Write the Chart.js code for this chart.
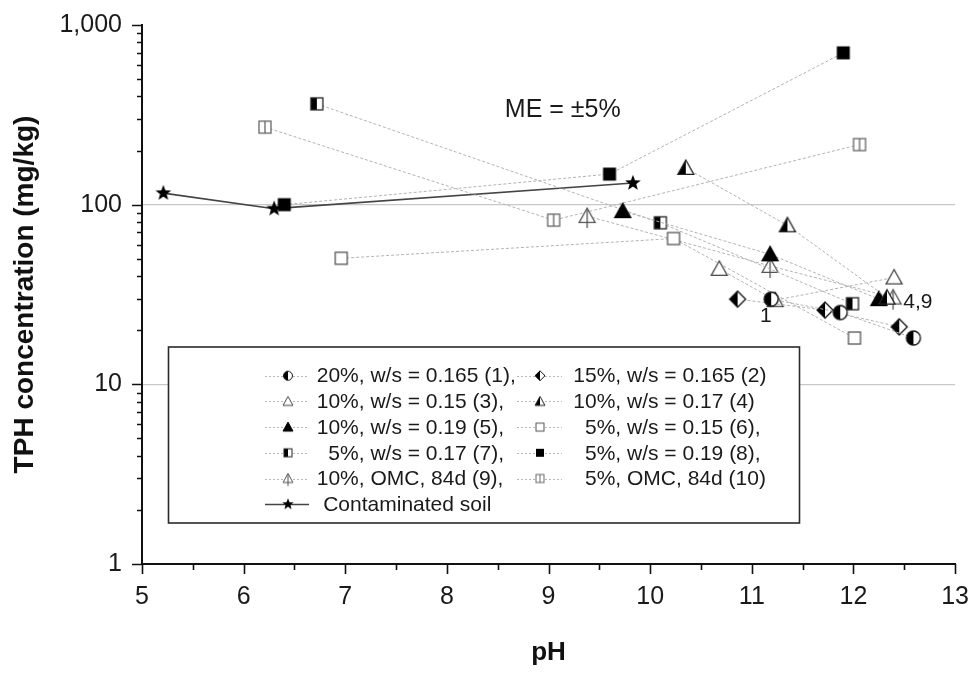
<!DOCTYPE html>
<html>
<head>
<meta charset="utf-8">
<script src="https://cdn.jsdelivr.net/npm/chart.js@4.4.1/dist/chart.umd.min.js"></script>
<style>
html,body{margin:0;padding:0;background:#fff;}
#wrap{width:977px;height:673px;}
</style>
</head>
<body>
<div id="wrap"><canvas id="c" width="977" height="673"></canvas></div>
<script>
// ---------------- DATA ----------------
const seriesLabels = [
  '20%, w/s = 0.165 (1),', '15%, w/s = 0.165 (2)',
  '10%, w/s = 0.15 (3),',  '10%, w/s = 0.17 (4)',
  '10%, w/s = 0.19 (5),',  '  5%, w/s = 0.15 (6),',
  '  5%, w/s = 0.17 (7),', '  5%, w/s = 0.19 (8),',
  '10%, OMC, 84d (9),',    '  5%, OMC, 84d (10)',
  'Contaminated soil'
];
const ph1 = [11.19, 11.87, 12.59];  const tph1 = [29.8, 25.1, 18.1];
const ph2 = [10.86, 11.72, 12.45];  const tph2 = [29.8, 25.9, 20.9];
const ph3 = [10.68, 11.23, 12.40];  const tph3 = [43.9, 29.4, 39.3];
const ph4 = [10.35, 11.35, 12.33];  const tph4 = [160, 76.7, 30.4];
const ph5 = [9.73, 11.18, 12.25];   const tph5 = [92, 52.9, 29.8];
const ph6 = [6.96, 10.23, 12.01];   const tph6 = [50.3, 64.8, 18.1];
const ph7 = [6.72, 10.10, 11.99];   const tph7 = [364, 79.3, 28.1];
const ph8 = [6.40, 9.60, 11.90];    const tph8 = [100, 148, 700];
const ph9 = [9.38, 11.18, 12.39];   const tph9 = [86.4, 45.6, 30.4];
const ph10 = [6.21, 9.05, 12.06];   const tph10 = [270, 82, 216];
const phSoil = [5.21, 6.30, 9.83];  const tphSoil = [116, 95, 132];

const xTicks = [5, 6, 7, 8, 9, 10, 11, 12, 13];
const yTickLabels = [1, 10, 100, 1000];
const annotations = [
  {text: 'ME = \u00B15%', x: 8.57, y: 337, size: 25},
  {text: '1', x: 11.08, y: 23.8, size: 21},
  {text: '4,9', x: 12.49, y: 28.5, size: 21}
];

// ---------------- STYLE / MARKERS ----------------
const FONT = '"Liberation Sans", Arial, Helvetica, sans-serif';

function makeMarker(type, s) {
  const W = Math.ceil(s * 2) + 2;
  const cv = document.createElement('canvas');
  cv.width = W; cv.height = W;
  const g = cv.getContext('2d');
  const c = W / 2, r = s / 2;
  g.lineJoin = 'miter';
  g.lineWidth = s > 11 ? 1.3 : 1;
  const tri = () => {
    g.beginPath();
    g.moveTo(c, c - s * 0.5);
    g.lineTo(c + r, c + s * 0.4);
    g.lineTo(c - r, c + s * 0.4);
    g.closePath();
  };
  switch (type) {
    case 'halfCircle':
      g.beginPath(); g.arc(c, c, r, 0, Math.PI * 2); g.fillStyle = '#fff'; g.fill();
      g.beginPath(); g.arc(c, c, r, Math.PI / 2, Math.PI * 1.5); g.closePath(); g.fillStyle = '#000'; g.fill();
      g.beginPath(); g.arc(c, c, r, 0, Math.PI * 2); g.strokeStyle = '#111'; g.stroke();
      break;
    case 'halfDiamond':
      g.beginPath(); g.moveTo(c, c - r); g.lineTo(c + r, c); g.lineTo(c, c + r); g.lineTo(c - r, c); g.closePath();
      g.fillStyle = '#fff'; g.fill();
      g.beginPath(); g.moveTo(c, c - r); g.lineTo(c - r, c); g.lineTo(c, c + r); g.closePath(); g.fillStyle = '#000'; g.fill();
      g.beginPath(); g.moveTo(c, c - r); g.lineTo(c + r, c); g.lineTo(c, c + r); g.lineTo(c - r, c); g.closePath();
      g.strokeStyle = '#111'; g.stroke();
      break;
    case 'triOpen':
      tri(); g.fillStyle = '#fff'; g.fill(); g.strokeStyle = '#444'; g.stroke();
      break;
    case 'triHalf':
      tri(); g.fillStyle = '#fff'; g.fill();
      g.beginPath(); g.moveTo(c, c - s * 0.5); g.lineTo(c - r, c + s * 0.4); g.lineTo(c, c + s * 0.4); g.closePath();
      g.fillStyle = '#000'; g.fill();
      tri(); g.strokeStyle = '#222'; g.stroke();
      break;
    case 'triFilled':
      tri(); g.fillStyle = '#000'; g.fill(); g.strokeStyle = '#000'; g.stroke();
      break;
    case 'triArrow':
      tri(); g.fillStyle = '#fff'; g.fill(); g.strokeStyle = '#555'; g.stroke();
      g.beginPath(); g.moveTo(c, c - s * 0.5); g.lineTo(c, c + s * 0.75); g.stroke();
      break;
    case 'sqOpen':
      g.fillStyle = '#fff'; g.fillRect(c - r, c - r, s, s);
      g.strokeStyle = '#555'; g.strokeRect(c - r, c - r, s, s);
      break;
    case 'sqHalf':
      g.fillStyle = '#fff'; g.fillRect(c - r, c - r, s, s);
      g.fillStyle = '#000'; g.fillRect(c - r, c - r, r, s);
      g.strokeStyle = '#222'; g.strokeRect(c - r, c - r, s, s);
      break;
    case 'sqFilled':
      g.fillStyle = '#000'; g.fillRect(c - r, c - r, s, s);
      break;
    case 'sqBar':
      g.fillStyle = '#fff'; g.fillRect(c - r, c - r, s, s);
      g.strokeStyle = '#666'; g.strokeRect(c - r, c - r, s, s);
      g.beginPath(); g.moveTo(c, c - r); g.lineTo(c, c + r); g.stroke();
      break;
    case 'star': {
      const ro = s * 0.55, ri = ro * 0.42;
      g.beginPath();
      for (let i = 0; i < 10; i++) {
        const a = -Math.PI / 2 + i * Math.PI / 5;
        const rr = i % 2 ? ri : ro;
        const px = c + rr * Math.cos(a), py = c + rr * Math.sin(a);
        if (i === 0) g.moveTo(px, py); else g.lineTo(px, py);
      }
      g.closePath(); g.fillStyle = '#000'; g.fill();
      break;
    }
  }
  return cv;
}

const seriesDefs = [
  {ph: ph1, tph: tph1, marker: 'halfCircle', size: 14, lsize: 9},
  {ph: ph2, tph: tph2, marker: 'halfDiamond', size: 16, lsize: 10},
  {ph: ph3, tph: tph3, marker: 'triOpen', size: 16, lsize: 10},
  {ph: ph4, tph: tph4, marker: 'triHalf', size: 16, lsize: 10},
  {ph: ph5, tph: tph5, marker: 'triFilled', size: 16, lsize: 10},
  {ph: ph6, tph: tph6, marker: 'sqOpen', size: 12, lsize: 8},
  {ph: ph7, tph: tph7, marker: 'sqHalf', size: 12, lsize: 8},
  {ph: ph8, tph: tph8, marker: 'sqFilled', size: 13, lsize: 8},
  {ph: ph9, tph: tph9, marker: 'triArrow', size: 16, lsize: 10},
  {ph: ph10, tph: tph10, marker: 'sqBar', size: 12, lsize: 8},
  {ph: phSoil, tph: tphSoil, marker: 'star', size: 15, lsize: 11, solid: true}
];
seriesDefs.forEach((d, i) => {
  d.label = seriesLabels[i];
  d.img = makeMarker(d.marker, d.size);
  d.limg = makeMarker(d.marker, d.lsize);
});

const datasets = seriesDefs.map(d => ({
  label: d.label,
  data: d.ph.map((x, i) => ({x: x, y: d.tph[i]})),
  showLine: true,
  borderColor: d.solid ? '#444' : '#b3b3b3',
  borderWidth: d.solid ? 1.6 : 1,
  borderDash: d.solid ? [] : [3, 2],
  pointStyle: d.img,
  pointRadius: 7,
  pointHoverRadius: 7,
  backgroundColor: '#000',
  tension: 0,
  clip: false
}));

// ---------------- PLUGINS ----------------
const tickMarks = {
  id: 'tickMarks',
  afterDraw(chart) {
    const ctx = chart.ctx, xs = chart.scales.x, ys = chart.scales.y;
    const L = chart.chartArea.left, B = chart.chartArea.bottom;
    ctx.save();
    ctx.strokeStyle = '#111';
    ctx.lineWidth = 1.6;
    ctx.beginPath();
    for (let v = 5; v <= 13.001; v += 0.5) {
      const px = Math.round(xs.getPixelForValue(v)) + 0.5;
      const len = Math.abs(v - Math.round(v)) < 1e-6 ? 10 : 6;
      ctx.moveTo(px, B); ctx.lineTo(px, B + len);
    }
    for (let e = 0; e <= 3; e++) {
      for (let m = 1; m <= 9; m++) {
        const v = m * Math.pow(10, e);
        if (v > 1000) break;
        const py = Math.round(ys.getPixelForValue(v)) + 0.5;
        const len = m === 1 ? 10 : 5;
        ctx.moveTo(L, py); ctx.lineTo(L - len, py);
      }
    }
    ctx.stroke();
    ctx.restore();
  }
};

const overlay = {
  id: 'overlay',
  afterDatasetsDraw(chart) {
    const ctx = chart.ctx, xs = chart.scales.x, ys = chart.scales.y;
    ctx.save();
    ctx.fillStyle = '#1a1a1a';
    ctx.textBaseline = 'middle';
    ctx.textAlign = 'left';
    annotations.forEach(a => {
      ctx.font = a.size + 'px ' + FONT;
      ctx.fillText(a.text, xs.getPixelForValue(a.x), ys.getPixelForValue(a.y));
    });

    // legend box
    const bx = 168.5, by = 347, bw = 631, bh = 176;
    ctx.fillStyle = '#fff';
    ctx.fillRect(bx, by, bw, bh);
    ctx.strokeStyle = '#2a2a2a';
    ctx.lineWidth = 1.6;
    ctx.strokeRect(bx, by, bw, bh);

    const rowY0 = 375.7, rowH = 25.7;
    const cols = [{lx0: 265, lx1: 309, mx: 288, tx: 316.7}, {lx0: 517, lx1: 562, mx: 540, tx: 573.3}];
    ctx.font = '21px ' + FONT;
    seriesDefs.forEach((d, i) => {
      let row, col;
      if (i < 10) { row = Math.floor(i / 2); col = cols[i % 2]; }
      else { row = 5; col = cols[0]; }
      const y = rowY0 + row * rowH;
      ctx.beginPath();
      ctx.moveTo(col.lx0, Math.round(y) + 0.5);
      ctx.lineTo(col.lx1, Math.round(y) + 0.5);
      if (d.solid) { ctx.setLineDash([]); ctx.strokeStyle = '#444'; ctx.lineWidth = 1.5; }
      else { ctx.setLineDash([2, 2]); ctx.strokeStyle = '#b8b8b8'; ctx.lineWidth = 1; }
      ctx.stroke();
      ctx.setLineDash([]);
      ctx.drawImage(d.limg, col.mx - d.limg.width / 2, y - d.limg.height / 2);
      ctx.fillStyle = '#1a1a1a';
      ctx.fillText(d.label, d.solid ? col.tx + 6.5 : col.tx, y + 1);
    });
    ctx.restore();
  }
};

// ---------------- CHART ----------------
new Chart(document.getElementById('c'), {
  type: 'scatter',
  data: {datasets: datasets},
  options: {
    responsive: false,
    animation: false,
    events: [],
    layout: {padding: {top: 23, right: 19, left: 0, bottom: 0}},
    plugins: {legend: {display: false}, tooltip: {enabled: false}, title: {display: false}},
    scales: {
      x: {
        type: 'linear', position: 'bottom', min: 5, max: 13,
        afterBuildTicks: (s) => { s.ticks = xTicks.map(v => ({value: v})); },
        ticks: {autoSkip: false, maxRotation: 0, padding: 8, color: '#1a1a1a',
                font: {family: FONT, size: 25}},
        grid: {display: true, drawOnChartArea: false, drawTicks: true, tickLength: 10, tickColor: 'transparent'},
        border: {display: true, color: '#111', width: 2},
        title: {display: true, text: 'pH', color: '#111', font: {family: FONT, size: 26, weight: 'bold', lineHeight: 1.2},
                padding: {top: 0, bottom: 5}},
        afterFit: (s) => { s.height = 109; }
      },
      y: {
        type: 'logarithmic', position: 'left', min: 1, max: 1000,
        afterBuildTicks: (s) => { s.ticks = yTickLabels.map(v => ({value: v, major: true})); },
        ticks: {autoSkip: false, padding: 10, color: '#1a1a1a',
                font: {family: FONT, size: 25},
                callback: (v) => Number(v).toLocaleString('en-US')},
        grid: {display: true, drawTicks: true, tickLength: 10, tickColor: 'transparent',
               color: (c) => (c.tick && (c.tick.value === 10 || c.tick.value === 100)) ? '#c8c8c8' : 'transparent',
               lineWidth: 1.2},
        border: {display: true, color: '#111', width: 2},
        title: {display: true, text: 'TPH concentration (mg/kg)', color: '#111',
                font: {family: FONT, size: 28, weight: 'bold', lineHeight: 1.2},
                padding: {top: 8, bottom: 0}},
        afterFit: (s) => { s.width = 142; }
      }
    }
  },
  plugins: [overlay, tickMarks]
});
</script>
</body>
</html>
